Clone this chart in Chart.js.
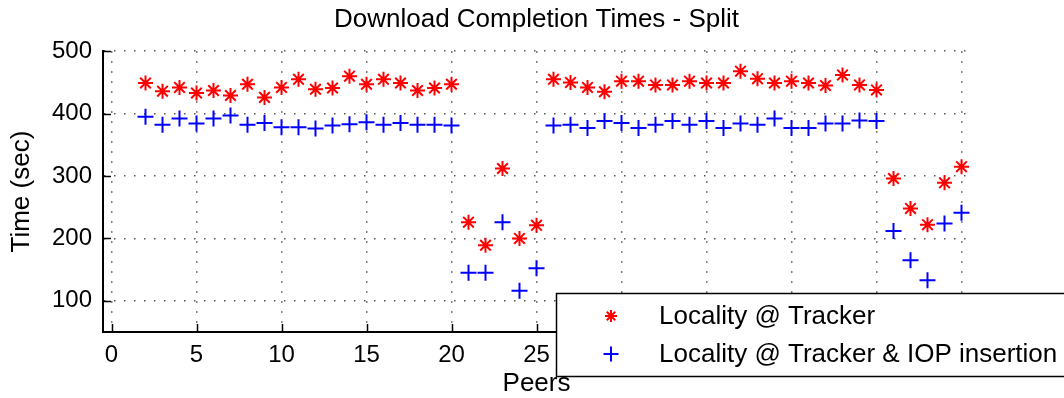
<!DOCTYPE html>
<html>
<head>
<meta charset="utf-8">
<script src="https://cdn.jsdelivr.net/npm/chart.js@4/dist/chart.umd.min.js"></script>
<style>
html,body{margin:0;padding:0;background:#fff;}
#wrap{width:1064px;height:398px;position:relative;}
</style>
</head>
<body>
<div id="wrap"><canvas id="c" width="1064" height="398"></canvas></div>
<script>
// ---- data ----
const peers = [2,3,4,5,6,7,8,9,10,11,12,13,14,15,16,17,18,19,20,
  21,22,23,24,25,
  26,27,28,29,30,31,32,33,34,35,36,37,38,39,40,41,42,43,44,45,
  46,47,48,49,50];
const localityTracker = [449,436,442,433,437,429,447,426,442,455,439,441,460,447,455,449,437,441,447,
  226,189,312,200,221,
  455,450,442,435,452,452,446,446,452,449,449,468,456,449,452,449,445,462,446,438,
  296,248,222,289,315];
const localityTrackerIOP = [395,382,392,384,392,397,382,385,378,378,376,381,383,386,382,385,382,382,381,
  145,145,226,116,152,
  381,382,377,388,385,377,382,388,382,388,377,384,382,392,377,377,384,384,389,388,
  212,165,133,224,241];
const xTicks = [0,5,10,15,20,25,30,35,40,45,50];
const yTicks = [100,200,300,400,500];
const seriesNames = ['Locality @ Tracker', 'Locality @ Tracker & IOP insertion'];
const titleText = 'Download Completion Times - Split';
const xLabel = 'Peers';
const yLabel = 'Time (sec)';

Chart.defaults.font.family = "'Liberation Sans', Arial, sans-serif";
Chart.defaults.color = '#000';

const FONT = 24;
const TFONT = 26;

const inwardTicks = {
  id: 'inwardTicks',
  afterDatasetsDraw(chart) {
    const ctx = chart.ctx, a = chart.chartArea;
    const xs = chart.scales.x, ys = chart.scales.y;
    ctx.save();
    ctx.strokeStyle = '#000';
    ctx.lineWidth = 1.5;
    ctx.beginPath();
    xTicks.forEach(v => { const p = Math.round(xs.getPixelForValue(v)) + 0.5; ctx.moveTo(p, a.bottom); ctx.lineTo(p, a.bottom - 8); });
    yTicks.forEach(v => { const p = Math.round(ys.getPixelForValue(v)) + 0.5; ctx.moveTo(a.left, p); ctx.lineTo(a.left + 8, p); });
    ctx.stroke();
    ctx.restore();
  }
};

const boxLegend = {
  id: 'boxLegend',
  afterDraw(chart) {
    const ctx = chart.ctx;
    const bx = 556, by = 293, bw = 520, bh = 83;
    ctx.save();
    ctx.fillStyle = '#fff';
    ctx.fillRect(bx, by, bw, bh);
    ctx.strokeStyle = '#000';
    ctx.lineWidth = 1.5;
    ctx.strokeRect(bx + 0.5, by + 0.5, bw, bh);
    const rows = [316, 354];
    chart.data.datasets.forEach((ds, i) => {
      ctx.save();
      ctx.strokeStyle = ds.borderColor;
      ctx.fillStyle = ds.backgroundColor;
      ctx.lineWidth = ds.borderWidth;
      const r = i === 0 ? 6 : 7.5;
      Chart.helpers.drawPoint(ctx, {pointStyle: ds.pointStyle, radius: r, borderWidth: ds.borderWidth, rotation: 0}, 611, rows[i]);
      ctx.fillStyle = '#000';
      ctx.font = TFONT + "px 'Liberation Sans', Arial, sans-serif";
      ctx.textBaseline = 'middle';
      ctx.textAlign = 'left';
      ctx.fillText(ds.label, 659, rows[i] + 1);
      ctx.restore();
    });
    ctx.restore();
  }
};

new Chart(document.getElementById('c'), {
  type: 'scatter',
  data: {
    datasets: [
      {
        label: seriesNames[0],
        data: peers.map((p, i) => ({x: p, y: localityTracker[i]})),
        pointStyle: 'star',
        pointRadius: 7.5,
        borderWidth: 2,
        borderColor: '#ff0000',
        backgroundColor: '#ff0000'
      },
      {
        label: seriesNames[1],
        data: peers.map((p, i) => ({x: p, y: localityTrackerIOP[i]})),
        pointStyle: 'cross',
        pointRadius: 8,
        borderWidth: 2,
        borderColor: '#0000ff',
        backgroundColor: '#0000ff'
      }
    ]
  },
  options: {
    responsive: false,
    animation: false,
    events: [],
    layout: {padding: {left: 0, right: 94, top: 0, bottom: 0}},
    plugins: {
      legend: {display: false},
      tooltip: {enabled: false},
      title: {
        display: true,
        fullSize: false,
        text: titleText,
        font: {size: TFONT, weight: 'normal', lineHeight: 1.2},
        padding: {top: 4, bottom: 16},
        color: '#000'
      }
    },
    scales: {
      x: {
        type: 'linear',
        min: -0.5,
        max: 50.5,
        afterBuildTicks: s => { s.ticks = xTicks.map(v => ({value: v})); },
        afterFit: s => { s.height = 66; },
        ticks: {font: {size: FONT}, padding: 9, maxRotation: 0, autoSkip: false, color: '#000'},
        grid: {color: '#555', lineWidth: 1.5, drawTicks: false},
        border: {display: true, color: '#000', width: 2, dash: [1.5, 8.5]},
        title: {display: true, text: xLabel, font: {size: TFONT, lineHeight: 1.2}, padding: {top: 0, bottom: -1}, color: '#000'}
      },
      y: {
        type: 'linear',
        min: 50,
        max: 500,
        afterBuildTicks: s => { s.ticks = yTicks.map(v => ({value: v})); },
        afterFit: s => { s.width = 103; },
        ticks: {font: {size: FONT}, padding: 11, color: '#000'},
        grid: {color: '#555', lineWidth: 1.5, drawTicks: false},
        border: {display: true, color: '#000', width: 2, dash: [1.5, 8.5]},
        title: {display: true, text: yLabel, font: {size: TFONT, lineHeight: 1.2}, padding: {top: 6, bottom: 0}, color: '#000'}
      }
    }
  },
  plugins: [inwardTicks, boxLegend]
});
</script>
</body>
</html>
